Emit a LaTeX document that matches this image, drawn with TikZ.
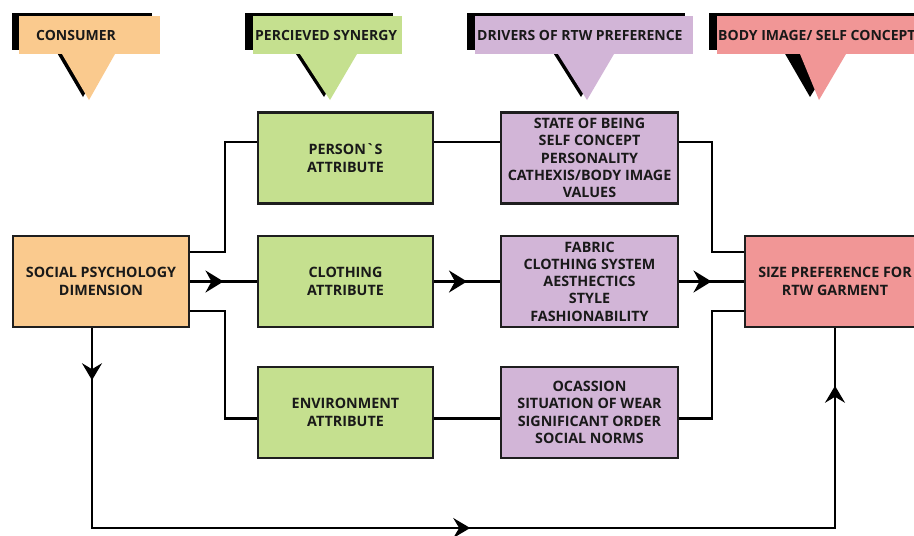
\documentclass[tikz,border=0pt]{standalone}
\usepackage{fontspec}
\setmainfont{Open Sans}
\usetikzlibrary{arrows.meta,decorations.markings}
\definecolor{corange}{RGB}{250,202,142}
\definecolor{cgreen}{RGB}{197,224,143}
\definecolor{cpurple}{RGB}{210,181,215}
\definecolor{cpink}{RGB}{241,150,150}
\definecolor{cborder}{RGB}{30,30,30}
\definecolor{ctext}{RGB}{25,25,25}
\begin{document}
\begin{tikzpicture}[x=1pt,y=-1pt,
  box/.style={draw=cborder, line width=2.4pt, minimum width=176pt, minimum height=91pt,
    align=center, inner sep=0pt, text=ctext, font=\bfseries\fontsize{14.3}{17.3}\selectfont},
  hdr/.style={anchor=west, inner sep=0pt, text=ctext, font=\bfseries\fontsize{14}{17}\selectfont},
  conn/.style={draw=black, line width=2.2pt},
  midarrow/.style={postaction={decorate}, decoration={markings,
    mark=at position 0.5 with {\arrow{Stealth[length=18pt,width=22pt,inset=6pt]}}}},
  loopline/.style={draw=black, line width=1.8pt, postaction={decorate}, decoration={markings,
    mark=at position 52pt with {\arrow{Stealth[length=17pt,width=20pt,inset=6pt]}},
    mark=at position 578pt with {\arrow{Stealth[length=17pt,width=20pt,inset=6pt]}},
    mark=at position 1085pt with {\arrow{Stealth[length=17pt,width=20pt,inset=6pt]}}}}
]
\clip (0,0) rectangle (914,536);
\fill[white] (0,0) rectangle (914,536);

% ---- callouts ----
% consumer
\fill[black] (12,13) rectangle (152,50);
\fill[black] (56,51) -- (109,51) -- (83,97) -- cycle;
\fill[corange] (62,54) -- (115,54) -- (89,100) -- cycle;
\fill[corange] (19,16) rectangle (160,54);
\node[hdr] (h1) at (36,35) {CONSUMER};
% synergy
\fill[black] (245,13) rectangle (393,50);
\fill[black] (294,51) -- (351,51) -- (324,97) -- cycle;
\fill[cgreen] (300,54) -- (357,54) -- (330,100) -- cycle;
\fill[cgreen] (253,16) rectangle (402,54);
\node[hdr] (h2) at (255,35) {PERCIEVED SYNERGY};
% drivers
\fill[black] (467,13) rectangle (685,50);
\fill[black] (552,51) -- (608,51) -- (581,97) -- cycle;
\fill[cpurple] (558,54) -- (614,54) -- (587,100) -- cycle;
\fill[cpurple] (475,16) rectangle (693,54);
\node[hdr] (h3) at (477,35) {DRIVERS OF RTW PREFERENCE};
% body image
\fill[black] (709,13) rectangle (930,50);
\fill[black] (784,52) -- (838,52) -- (810,97) -- cycle;
\fill[cpink] (800,54) -- (846,54) -- (819,100) -- cycle;
\fill[cpink] (717,16) rectangle (930,54);
\node[hdr] (h4) at (718,35) {BODY IMAGE/ SELF CONCEPT};

% ---- boxes ----
\node[box, fill=corange] (sp) at (101,281.5) {SOCIAL PSYCHOLOGY\\DIMENSION};
\node[box, fill=cgreen, minimum width=175pt] (pa) at (345.5,158) {PERSON\textasciigrave S\\ATTRIBUTE};
\node[box, fill=cgreen, minimum width=175pt] (ca) at (345.5,281.5) {CLOTHING\\ATTRIBUTE};
\node[box, fill=cgreen, minimum width=175pt] (ea) at (345.5,412.5) {ENVIRONMENT\\ATTRIBUTE};
\node[box, fill=cpurple, minimum width=177pt] (d1) at (589.5,158) {STATE OF BEING\\SELF CONCEPT\\PERSONALITY\\CATHEXIS/BODY IMAGE\\VALUES};
\node[box, fill=cpurple, minimum width=177pt] (d2) at (589.5,281.5) {FABRIC\\CLOTHING SYSTEM\\AESTHECTICS\\STYLE\\FASHIONABILITY};
\node[box, fill=cpurple, minimum width=177pt] (d3) at (589.5,412.5) {OCASSION\\SITUATION OF WEAR\\SIGNIFICANT ORDER\\SOCIAL NORMS};
\node[box, fill=cpink, minimum width=180pt] (sz) at (835,281.5) {SIZE PREFERENCE FOR\\RTW GARMENT};

% ---- connectors ----
\draw[conn] ([yshift=29.5pt]sp.east) -- ++(35,0) |- ([yshift=16pt]pa.west);
\draw[conn] ([yshift=16pt]pa.east) -- ([yshift=16pt]d1.west);
\draw[conn, midarrow] (sp.east) -- (ca.west);
\draw[conn, midarrow] (ca.east) -- (d2.west);
\draw[conn] ([yshift=-29.5pt]sp.east) -- ++(35,0) |- ([yshift=-6pt]ea.west);
\draw[conn] ([yshift=-6pt]ea.east) -- ([yshift=-6pt]d3.west);
\draw[conn] ([yshift=16pt]d1.east) -- ++(33,0) |- ([yshift=29.5pt]sz.west);
\draw[conn] ([yshift=-6pt]d3.east) -- ++(33,0) |- ([yshift=-29.5pt]sz.west);
\draw[conn, midarrow] (d2.east) -- (sz.west);

\coordinate (lb) at (92,528);
\coordinate (rb) at (835,528);
\draw[loopline] ([xshift=-9pt]sp.south) -- (lb) -- (rb) -- (sz.south);
\end{tikzpicture}
\end{document}
